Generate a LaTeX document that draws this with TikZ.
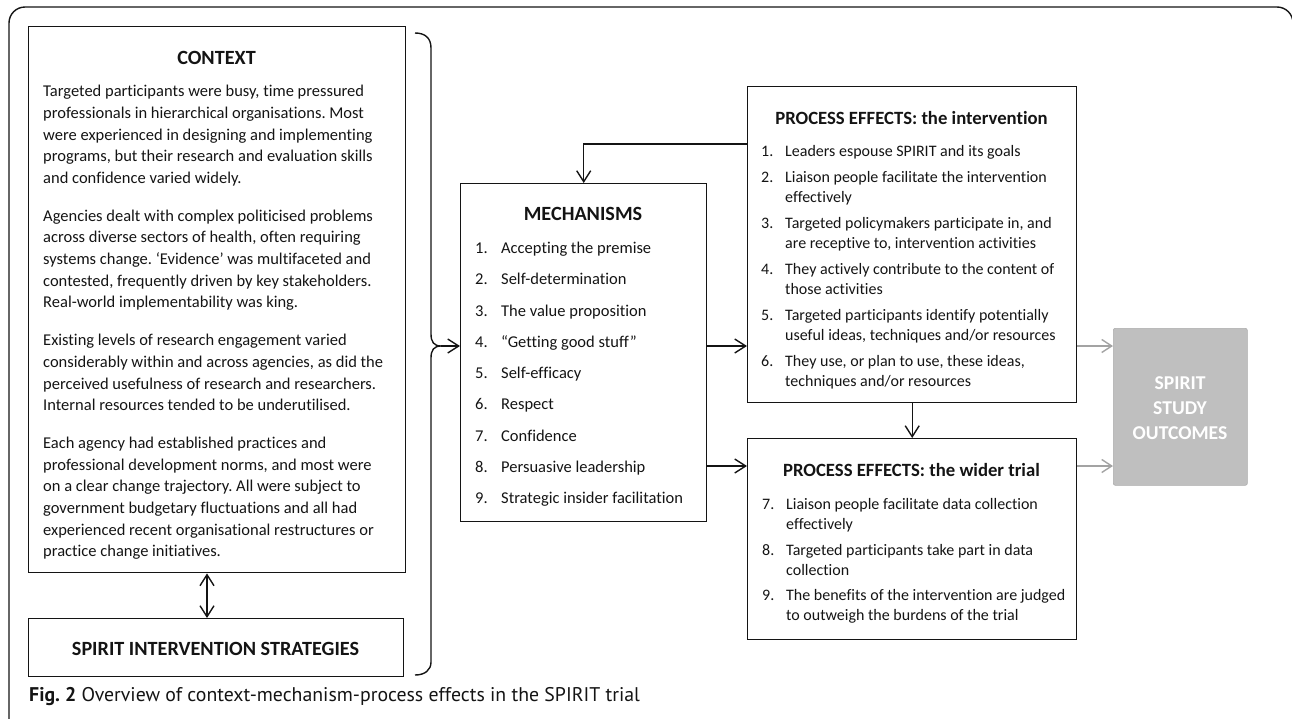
\documentclass[tikz,border=0pt]{standalone}
\usepackage{fontspec}
\setmainfont{Carlito}[Ligatures=NoCommon]
\newfontfamily\capfont{PT Sans}
\usetikzlibrary{arrows.meta}
\definecolor{txt}{HTML}{141414}
\definecolor{outgray}{HTML}{BFBFBF}
\definecolor{arrgray}{HTML}{A3A3A3}
\frenchspacing
\begin{document}
\begin{tikzpicture}[x=1pt,y=-1pt,
  box/.style={draw=txt, line width=1.4pt, inner sep=0pt, anchor=north west},
  ttl/.style={font=\fontsize{20.2}{22}\selectfont\bfseries, text=txt, inner sep=0pt, anchor=base},
  pttl/.style={font=\fontsize{18.7}{22}\selectfont\bfseries, text=txt, inner sep=0pt, anchor=base},
  body/.style={font=\fontsize{16.5}{21.6}\selectfont, text=txt, align=left, inner sep=0pt, anchor=base west},
  mlist/.style={font=\fontsize{16.5}{31.25}\selectfont, text=txt, align=left, inner sep=0pt, anchor=base west},
  plist/.style={font=\fontsize{16}{20}\selectfont, text=txt, align=left, inner sep=0pt, anchor=base west},
  conn/.style={draw=txt, line width=1.4pt, -{Straight Barb[length=11pt,width=14pt,line width=1.4pt]}},
  dconn/.style={draw=txt, line width=1.4pt, {Straight Barb[length=11pt,width=14pt,line width=1.4pt]}-{Straight Barb[length=11pt,width=14pt,line width=1.4pt]}},
  gconn/.style={draw=arrgray, line width=1.4pt, -{Straight Barb[length=10pt,width=13pt,line width=1.4pt]}}
]
\useasboundingbox (0,0) rectangle (1292,718);
% outer frame
\draw[txt, line width=1.4pt, rounded corners=16pt] (9,7) rectangle (1293,760);

% boxes
\node[box, minimum width=377pt, minimum height=546pt] (ctx) at (28,26) {};
\node[box, minimum width=375pt, minimum height=58pt] (strat) at (28,618) {};
\node[box, minimum width=246pt, minimum height=338pt] (mech) at (460,183) {};
\node[box, minimum width=329pt, minimum height=316pt] (procI) at (747,86) {};
\node[box, minimum width=329pt, minimum height=201pt] (wider) at (747,438) {};
\node[fill=outgray, draw=outgray!90!black, line width=0.6pt, rounded corners=2pt, inner sep=0pt, anchor=north west, minimum width=134pt, minimum height=157pt] (outc) at (1113,328) {};

% titles
\node[ttl] (ctxT) at (216.5,64.5) {CONTEXT};
\node[ttl] (stratT) at (215.5,655.5) {SPIRIT INTERVENTION STRATEGIES};
\node[ttl] (mechT) at (583,220.5) {MECHANISMS};
\node[pttl] (procIT) at (911.5,124) {PROCESS EFFECTS: the intervention};
\node[pttl] (widerT) at (911.5,476) {PROCESS EFFECTS: the wider trial};
\node[font=\fontsize{19.6}{25}\selectfont\bfseries, text=white, align=center, inner sep=0pt] (outcT) at (1180,408) {SPIRIT\\STUDY\\OUTCOMES};

% context text (anchor = baseline of last line)
\node[body] (ctxB) at (43,556.7) {Targeted participants were busy, time pressured\\
professionals in hierarchical organisations. Most\\
were experienced in designing and implementing\\
programs, but their research and evaluation skills\\
and confidence varied widely.\\[16.5pt]
Agencies dealt with complex politicised problems\\
across diverse sectors of health, often requiring\\
systems change. ‘Evidence’ was multifaceted and\\
contested, frequently driven by key stakeholders.\\
Real-world implementability was king.\\[16.5pt]
Existing levels of research engagement varied\\
considerably within and across agencies, as did the\\
perceived usefulness of research and researchers.\\
Internal resources tended to be underutilised.\\[16.5pt]
Each agency had established practices and\\
professional development norms, and most were\\
on a clear change trajectory. All were subject to\\
government budgetary fluctuations and all had\\
experienced recent organisational restructures or\\
practice change initiatives.};

% mechanisms list
\node[mlist] (mechL) at (475,503.7) {\makebox[26pt][l]{1.}Accepting the premise\\
\makebox[26pt][l]{2.}Self-determination\\
\makebox[26pt][l]{3.}The value proposition\\
\makebox[26pt][l]{4.}“Getting good stuff”\\
\makebox[26pt][l]{5.}Self-efficacy\\
\makebox[26pt][l]{6.}Respect\\
\makebox[26pt][l]{7.}Confidence\\
\makebox[26pt][l]{8.}Persuasive leadership\\
\makebox[26pt][l]{9.}Strategic insider facilitation};

% process effects: intervention
\node[plist] (procIL) at (761,386.7) {\makebox[24pt][l]{1.}Leaders espouse SPIRIT and its goals\\[6pt]
\makebox[24pt][l]{2.}Liaison people facilitate the intervention\\
\hspace*{24pt}effectively\\[6pt]
\makebox[24pt][l]{3.}Targeted policymakers participate in, and\\
\hspace*{24pt}are receptive to, intervention activities\\[6pt]
\makebox[24pt][l]{4.}They actively contribute to the content of\\
\hspace*{24pt}those activities\\[6pt]
\makebox[24pt][l]{5.}Targeted participants identify potentially\\
\hspace*{24pt}useful ideas, techniques and/or resources\\[6pt]
\makebox[24pt][l]{6.}They use, or plan to use, these ideas,\\
\hspace*{24pt}techniques and/or resources};

% process effects: wider trial
\node[plist] (widerL) at (762,620.7) {\makebox[24pt][l]{7.}Liaison people facilitate data collection\\
\hspace*{24pt}effectively\\[5.5pt]
\makebox[24pt][l]{8.}Targeted participants take part in data\\
\hspace*{24pt}collection\\[5.5pt]
\makebox[24pt][l]{9.}The benefits of the intervention are judged\\
\hspace*{24pt}to outweigh the burdens of the trial};

% caption
\node[font=\capfont\fontsize{19.8}{22}\selectfont, text=txt, inner sep=0pt, anchor=base west] (cap) at (29,701.5) {\textbf{Fig. 2} Overview of context-mechanism-process effects in the SPIRIT trial};

% brace
\coordinate (bt) at (441,346);
\draw[txt, line width=1.4pt] (415,33) .. controls (425,33) and (431,38) .. (431,48) -- (431,334) .. controls (431,342) and (434,346) .. (bt) .. controls (434,346) and (431,350) .. (431,358) -- (431,662) .. controls (431,670) and (425,675) .. (415,675);

% connector rows / columns
\coordinate (rowA) at (0,346);
\coordinate (rowB) at (0,466);
\coordinate (rowC) at (0,144);
\coordinate (colD) at (207,0);

\draw[conn] (bt) -- (mech.west |- bt);
\draw[conn] (mech.east |- rowA) -- (procI.west |- rowA);
\draw[conn] (mech.east |- rowB) -- (wider.west |- rowB);
\draw[conn] (procI.west |- rowC) -| (mech.north);
\draw[conn] (procI.south) -- (wider.north);
\draw[dconn] (ctx.south -| colD) -- (strat.north -| colD);
\draw[gconn] (procI.east |- rowA) -- (outc.west |- rowA);
\draw[gconn] (wider.east |- rowB) -- (outc.west |- rowB);
\end{tikzpicture}
\end{document}
